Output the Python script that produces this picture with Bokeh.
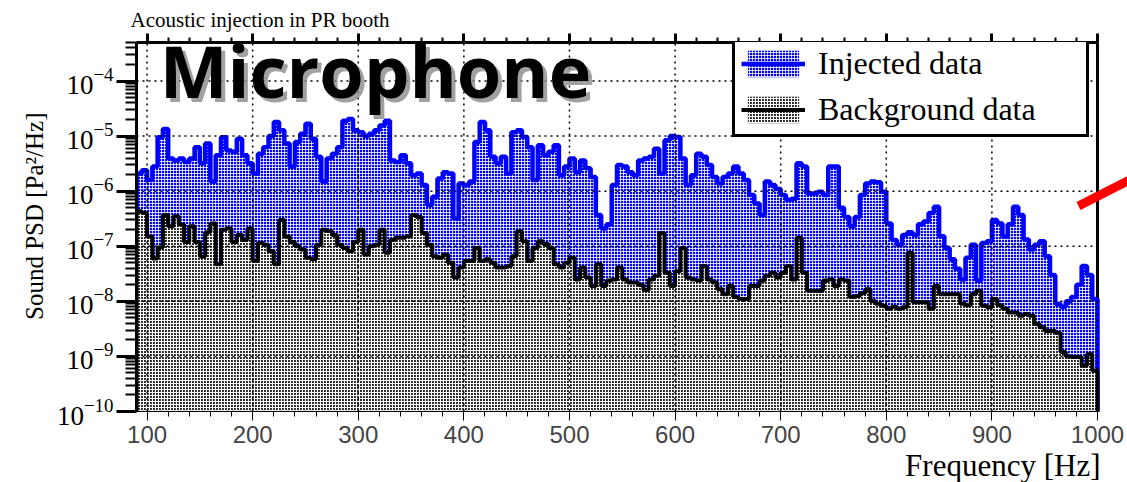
import numpy as np
from bokeh.plotting import figure
from bokeh.models import (FixedTicker, LogTickFormatter, Legend, LegendItem, Label,
                          Title, Range1d, LinearAxis)
from bokeh.embed import file_html
from bokeh.resources import INLINE

# ---------------- data ----------------
title_text = "Acoustic injection in PR booth"
x_label = "Frequency [Hz]"
y_label = "Sound PSD [Pa\u00b2/Hz]"
series_names = ["Injected data", "Background data"]
overlay_text = "Microphone"

bin_low = 90.0      # Hz, first bin edge
bin_width = 5.0     # Hz
x_ticks = [100, 200, 300, 400, 500, 600, 700, 800, 900, 1000]
y_tick_exponents = [-10, -9, -8, -7, -6, -5, -4]

injected = [
    2.1e-6, 2.4e-6, 1.6e-6, 2.8e-6, 9.5e-6, 1.35e-5, 3.9e-6, 3.6e-6, 3.9e-6, 3.4e-6,
    3.9e-6, 6.3e-6, 3.2e-6, 7.3e-6, 1.5e-6, 4.5e-6, 9.5e-6, 5.5e-6, 5.2e-6, 8.9e-6,
    4.5e-6, 3.2e-6, 2.1e-6, 4.8e-6, 6.3e-6, 1.0e-5, 1.8e-5, 1.27e-5, 7.3e-6, 2.8e-6,
    7.8e-6, 1.1e-5, 1.67e-5, 8.9e-6, 4.2e-6, 1.5e-6, 3.9e-6, 4.8e-6, 6.3e-6, 1.9e-5,
    2.05e-5, 1.27e-5, 1.18e-5, 1.0e-5, 1.1e-5, 1.27e-5, 1.56e-5, 1.9e-5, 3.6e-6, 3.4e-6,
    4.5e-6, 3.2e-6, 1.95e-6, 2.1e-6, 1.29e-6, 5.6e-7, 7.9e-7, 1.7e-6, 2.2e-6, 2.1e-6,
    3.2e-7, 1.38e-6, 1.29e-6, 1.5e-6, 7.8e-6, 1.8e-5, 1.27e-5, 4.2e-6, 3.2e-6, 4.2e-6,
    2.1e-6, 1.18e-5, 1.27e-5, 9.6e-6, 6.3e-6, 1.6e-6, 6.8e-6, 4.5e-6, 5.2e-6, 6.8e-6,
    1.95e-6, 2.8e-6, 3.9e-6, 2.2e-6, 3.6e-6, 2.6e-6, 1.8e-6, 3.7e-7, 2.1e-7, 2.5e-7,
    1.29e-6, 3.0e-6, 2.8e-6, 2.2e-6, 1.95e-6, 3.6e-6, 3.9e-6, 4.2e-6, 5.9e-6, 2.1e-6,
    8.4e-6, 1.0e-5, 9.6e-6, 3.9e-6, 1.29e-6, 1.95e-6, 4.8e-6, 4.2e-6, 3.0e-6, 1.8e-6,
    1.38e-6, 1.8e-6, 2.1e-6, 2.8e-6, 2.1e-6, 1.6e-6, 8.5e-7, 6.0e-7, 3.7e-7, 1.5e-6,
    1.29e-6, 1.1e-6, 8.5e-7, 7.0e-7, 7.3e-7, 3.2e-6, 2.8e-6, 9.1e-7, 9.1e-7, 9.8e-7,
    8.5e-7, 2.8e-6, 2.8e-6, 5.0e-7, 3.4e-7, 2.3e-7, 3.4e-7, 8.5e-7, 1.38e-6, 1.5e-6,
    1.45e-6, 9.8e-7, 2.6e-7, 1.3e-7, 1.07e-7, 1.6e-7, 1.8e-7, 1.6e-7, 2.5e-7, 2.8e-7,
    4.0e-7, 5.2e-7, 1.52e-7, 9.3e-8, 5.8e-8, 3.9e-8, 2.5e-8, 6.2e-8, 1.07e-7, 2.4e-8,
    1.15e-7, 1.23e-7, 3.0e-7, 2.6e-7, 1.5e-7, 2.5e-7, 5.2e-7, 3.7e-7, 1.33e-7, 8.7e-8,
    1.07e-7, 1.23e-7, 6.6e-8, 3.0e-8, 9.0e-9, 8.0e-9, 1.0e-8, 1.2e-8, 2.0e-8, 4.4e-8,
    3.0e-8, 1.1e-8,
]

background = [
    4.3e-7, 4.0e-7, 1.5e-7, 6.0e-8, 9.5e-8, 3.7e-7, 2.3e-7, 3.5e-7, 2.5e-7, 1.2e-7,
    2.3e-7, 1.2e-7, 6.5e-8, 1.8e-7, 2.6e-7, 4.7e-8, 2.0e-7, 2.1e-7, 1.2e-7, 1.6e-7,
    1.3e-7, 2.1e-7, 5.4e-8, 1.15e-7, 1.07e-7, 8.1e-8, 4.7e-8, 3.0e-7, 1.5e-7, 1.2e-7,
    1.0e-7, 8.7e-8, 6.2e-8, 5.8e-8, 1.07e-7, 2.0e-7, 1.9e-7, 1.6e-7, 1.07e-7, 9.3e-8,
    8.1e-8, 1.2e-7, 2.0e-7, 7.1e-8, 1.0e-7, 1.07e-7, 2.0e-7, 7.6e-8, 1.3e-7, 1.42e-7,
    1.42e-7, 1.52e-7, 3.7e-7, 3.4e-7, 1.74e-7, 1.07e-7, 6.6e-8, 6.2e-8, 7.1e-8, 5.0e-8,
    2.7e-8, 4.1e-8, 5.4e-8, 5.4e-8, 9.3e-8, 5.4e-8, 5.8e-8, 5.0e-8, 4.1e-8, 4.1e-8,
    4.4e-8, 6.6e-8, 1.87e-7, 1.23e-7, 5.4e-8, 9.3e-8, 1.23e-7, 1.1e-7, 9.3e-8, 4.7e-8,
    4.1e-8, 5.0e-8, 6.2e-8, 2.5e-8, 4.1e-8, 2.7e-8, 1.9e-8, 4.7e-8, 1.9e-8, 2.4e-8,
    2.5e-8, 4.1e-8, 2.5e-8, 2.2e-8, 2.2e-8, 2.0e-8, 1.6e-8, 2.5e-8, 2.9e-8, 1.74e-7,
    3.3e-8, 1.9e-8, 3.5e-8, 9.3e-8, 2.7e-8, 2.5e-8, 2.4e-8, 4.4e-8, 2.5e-8, 2.2e-8,
    1.65e-8, 1.35e-8, 1.9e-8, 1.2e-8, 1.1e-8, 1.1e-8, 1.9e-8, 1.9e-8, 2.4e-8, 2.9e-8,
    3.3e-8, 2.7e-8, 3.3e-8, 4.4e-8, 2.5e-8, 1.42e-7, 3.3e-8, 1.55e-8, 1.55e-8, 1.55e-8,
    2.4e-8, 2.5e-8, 1.9e-8, 2.5e-8, 2.4e-8, 1.2e-8, 1.25e-8, 1.4e-8, 1.65e-8, 1.0e-8,
    9.0e-9, 8.3e-9, 7.3e-9, 8.0e-9, 7.3e-9, 7.8e-9, 7.6e-8, 9.6e-9, 9.6e-9, 9.6e-9,
    7.3e-9, 1.9e-8, 1.35e-8, 1.35e-8, 1.35e-8, 1.35e-8, 9.0e-9, 8.5e-9, 1.35e-8, 1.55e-8,
    8.3e-9, 7.8e-9, 1.1e-8, 8.5e-9, 7.3e-9, 6.3e-9, 6.3e-9, 5.5e-9, 5.9e-9, 5.5e-9,
    3.9e-9, 3.4e-9, 2.9e-9, 2.9e-9, 2.7e-9, 1.2e-9, 1.0e-9, 9.8e-10, 9.8e-10, 6.8e-10,
    1.1e-9, 5.5e-10,
]

# ---------------- geometry from data ----------------
n_bins = len(injected)
edges = bin_low + bin_width * np.arange(n_bins + 1)
x_lo, x_hi = edges[0], edges[-1]
y_lo, y_hi = 1e-10, 5e-4
x_view_hi = 1028.4      # frame runs a little past the last bin (room for the red stroke)
y_floor = 1e-12


def outline(vals):
    xs = np.repeat(edges, 2)
    ys = np.concatenate([[y_floor], np.repeat(np.asarray(vals, dtype=float), 2), [y_floor]])
    return xs, ys


SERIF = "Liberation Serif"

p = figure(width=1127, height=482, y_axis_type="log",
           x_range=Range1d(x_lo, x_view_hi), y_range=Range1d(y_lo, y_hi),
           output_backend="svg", toolbar_location=None,
           min_border_left=136, min_border_right=0, min_border_top=42, min_border_bottom=71)
p.outline_line_color = None
p.xgrid.visible = False
p.ygrid.visible = False
p.background_fill_color = "white"
p.border_fill_color = "white"

p.title.text = title_text
p.title.text_font = SERIF
p.title.text_font_size = "21px"
p.title.text_font_style = "normal"
p.title.text_color = "black"
p.title.offset = -6
p.title.standoff = 4

# right frame edge (drawn under the histograms)
p.segment(x0=[x_hi], y0=[y_lo], x1=[x_hi], y1=[y_hi], line_color="black", line_width=3)

# histograms
xi, yi = outline(injected)
r_inj_fill = p.patch(xi, yi, fill_color="#0000ff", line_color=None,
                     hatch_pattern="+", hatch_color="white", hatch_scale=3, hatch_weight=0.8)
r_inj_line = p.line(xi, yi, line_color="#0000ff", line_width=4.5)

xb, yb = outline(background)
r_bg_fill = p.patch(xb, yb, fill_color="#262626", line_color=None,
                    hatch_pattern="+", hatch_color="white", hatch_scale=3, hatch_weight=1.2)
r_bg_line = p.line(xb, yb, line_color="black", line_width=4)

# ticks
y_major = [10.0 ** e for e in y_tick_exponents]
y_minor = [m * 10.0 ** e for e in range(y_tick_exponents[0] - 1, y_tick_exponents[-1] + 1)
           for m in range(2, 10)]
x_minor = list(np.arange(x_ticks[0], x_ticks[-1] + 1, 20))

# dotted grid, drawn over the filled areas, limited to the histogram extent
grid_kw = dict(line_color="black", line_dash="2 4", line_width=1.5)
p.segment(x0=x_ticks, y0=[y_lo] * len(x_ticks), x1=x_ticks, y1=[y_hi] * len(x_ticks), **grid_kw)
p.segment(x0=[x_lo] * len(y_major), y0=y_major, x1=[x_hi] * len(y_major), y1=y_major, **grid_kw)

p.xaxis.ticker = FixedTicker(ticks=x_ticks, minor_ticks=x_minor)
p.xaxis.bounds = (x_lo, x_hi)
p.yaxis.ticker = FixedTicker(ticks=y_major, minor_ticks=y_minor)
p.yaxis.formatter = LogTickFormatter()

top_axis = LinearAxis(ticker=FixedTicker(ticks=x_ticks, minor_ticks=x_minor), bounds=(x_lo, x_hi),
                      major_label_overrides={t: "" for t in x_ticks},
                      major_label_text_font_size="1px", major_label_standoff=0,
                      major_tick_in=9, major_tick_out=0, minor_tick_in=5, minor_tick_out=0)
p.add_layout(top_axis, "above")

for ax in (p.xaxis[0], p.yaxis[0], top_axis):
    ax.axis_line_width = 3
    ax.axis_line_color = "black"
    ax.major_tick_line_width = 3
    ax.minor_tick_line_width = 2

for ax in (p.xaxis[0], p.yaxis[0]):
    ax.major_tick_in = 0
    ax.minor_tick_in = 0
    ax.major_label_text_font = SERIF
    ax.major_label_text_color = "black"

p.xaxis.major_label_text_font_size = "24px"
p.yaxis.major_label_text_font_size = "27px"
p.yaxis.major_tick_out = 20
p.yaxis.minor_tick_out = 11
p.yaxis.major_label_standoff = 3
p.xaxis.major_tick_out = 9
p.xaxis.minor_tick_out = 5
p.xaxis.major_label_standoff = 5

p.add_layout(Title(text=y_label, align="right", offset=70, text_font=SERIF,
                   text_font_size="25px", text_font_style="normal", text_color="black",
                   standoff=12), "left")
p.add_layout(Title(text=x_label, align="right", text_font=SERIF, text_font_size="31px",
                   text_font_style="normal", text_color="black", offset=27, standoff=0), "below")

# big overlay label with soft shadow
p.add_layout(Label(x=112, y=1.56e-4, text=overlay_text, text_font="Open Sans",
                   text_font_style="bold", text_font_size="72px", text_color="#8a8a8a",
                   text_alpha=0.8, x_offset=4, y_offset=-4, text_baseline="alphabetic"))
p.add_layout(Label(x=112, y=1.56e-4, text=overlay_text, text_font="Open Sans",
                   text_font_style="bold", text_font_size="72px", text_color="black",
                   text_baseline="alphabetic"))

# red pointer stroke at right edge (annotation from the slide)
p.segment(x0=[982], y0=[5.4e-7], x1=[1035], y1=[1.78e-6], line_color="red", line_width=9)

legend = Legend(items=[LegendItem(label=series_names[0], renderers=[r_inj_fill, r_inj_line]),
                       LegendItem(label=series_names[1], renderers=[r_bg_fill, r_bg_line])],
                location=(596, 274),
                label_text_font=SERIF, label_text_font_size="32px", label_text_color="black",
                glyph_width=64, glyph_height=33, label_standoff=13, label_width=262,
                padding=6, spacing=9,
                border_line_color="black", border_line_width=3, border_line_alpha=1.0,
                background_fill_color="white", background_fill_alpha=1.0)
p.add_layout(legend)

open("out.html", "w").write(file_html(p, INLINE))
